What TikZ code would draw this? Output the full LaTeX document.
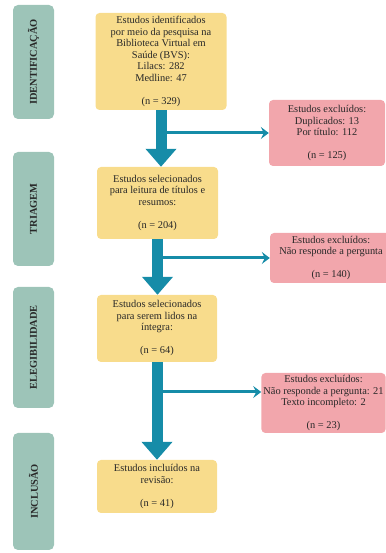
\documentclass[tikz,border=0pt]{standalone}
\usepackage{fontspec}
\setmainfont{Liberation Serif}
\usepackage{xcolor}
\usepackage{tikz}
\usetikzlibrary{arrows.meta,calc,positioning}

\definecolor{stagegreen}{RGB}{157,196,184}
\definecolor{boxyellow}{RGB}{248,220,140}
\definecolor{boxpink}{RGB}{242,166,172}
\definecolor{flowteal}{RGB}{22,140,168}
\definecolor{inkgray}{RGB}{40,40,40}

\begin{document}
\begin{tikzpicture}[x=1pt,y=1pt,
    stage/.style={fill=stagegreen,rounded corners=5pt,rotate=90,minimum height=41pt,
      text=inkgray,font=\fontsize{10.4}{12}\selectfont\bfseries},
    yellowbox/.style={fill=boxyellow,rounded corners=4pt,align=center,inner sep=2pt,
      text=inkgray,font=\fontsize{10.4}{11.5}\selectfont},
    pinkbox/.style={fill=boxpink,rounded corners=4pt,align=center,inner sep=2pt,
      text=inkgray,font=\fontsize{10.4}{11.5}\selectfont},
    bigarrow/.style={draw=flowteal,line width=11pt,-{Triangle[width=30pt,length=18pt]}},
    branch/.style={draw=flowteal,line width=3pt,-{Stealth[width=12pt,length=8pt,inset=3pt]}}]
    \useasboundingbox (0,0) rectangle (385,553);

    \node[stage,minimum width=114pt] (sid)  at (33.5,491)   {IDENTIFICAÇÃO};
    \node[stage,minimum width=114pt] (stri) at (33.5,344)   {TRIAGEM};
    \node[stage,minimum width=121pt] (sele) at (33.5,205.5) {ELEGIBILIDADE};
    \node[stage,minimum width=117pt] (sinc) at (33.5,61.5)  {INCLUSÃO};

    \node[yellowbox,minimum width=131pt,minimum height=97pt] (ident) at (161,491.5)
      {Estudos identificados\\por meio da pesquisa na\\Biblioteca Virtual em\\Saúde (BVS):\\Lilacs: 282\\Medline: 47\\[11.5pt](n = 329)};
    \node[yellowbox,minimum width=121pt,minimum height=72pt] (triag) at (157.5,350)
      {Estudos selecionados\\para leitura de títulos e\\resumos:\\[11.5pt](n = 204)};
    \node[yellowbox,minimum width=120pt,minimum height=67pt] (eleg) at (157,224.5)
      {Estudos selecionados\\para serem lidos na\\íntegra:\\[11.5pt](n = 64)};
    \node[yellowbox,minimum width=120pt,minimum height=53pt] (incl) at (157,66.5)
      {Estudos incluídos na\\revisão:\\[11.5pt](n = 41)};

    \node[pinkbox,minimum width=116pt,minimum height=66pt] (excl1) at (327,420)
      {Estudos excluídos:\\Duplicados: 13\\Por título: 112\\[11.5pt](n = 125)};
    \node[pinkbox,minimum width=122pt,minimum height=50pt] (excl2) at (331,295)
      {Estudos excluídos:\\Não responde a pergunta\\[11.5pt](n = 140)};
    \node[pinkbox,minimum width=123pt,minimum height=60pt] (excl3) at (323.5,150)
      {Estudos excluídos:\\Não responde a pergunta: 21\\Texto incompleto: 2\\[11.5pt](n = 23)};

    \coordinate (k3) at (eleg.south |- 0,161);
    \draw[branch] (ident.south |- excl1.west) -- (excl1.west);
    \draw[branch] (triag.south |- excl2.west) -- (excl2.west);
    \draw[branch] (k3) -- (k3 -| excl3.west);

    \draw[bigarrow] (ident.south) -- (ident.south |- triag.north);
    \draw[bigarrow] (triag.south) -- (triag.south |- eleg.north);
    \draw[bigarrow] (eleg.south) -- (eleg.south |- incl.north);
\end{tikzpicture}
\end{document}
